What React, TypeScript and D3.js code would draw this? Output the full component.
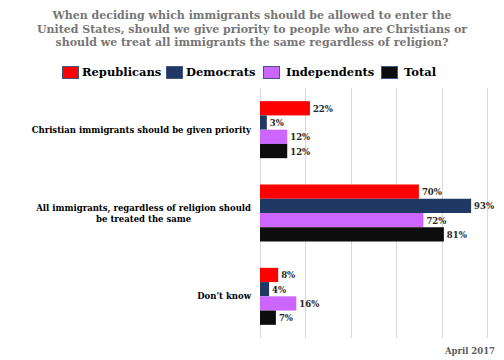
import React, { useEffect, useRef } from "react";
import * as d3 from "d3";

const categories = [
  ["Christian immigrants should be given priority"],
  ["All immigrants, regardless of religion should", "be treated the same"],
  ["Don't know"],
];
const seriesNames = ["Republicans", "Democrats", "Independents", "Total"];
const seriesColors = ["#ff0000", "#203864", "#cc66ff", "#0d0d0d"];
const republicans = [22, 70, 8];
const democrats = [3, 93, 4];
const independents = [12, 72, 16];
const total = [12, 81, 7];
const xTicks = [0, 20, 40, 60, 80, 100];
const titleLines = [
  "When deciding which immigrants should be allowed to enter the",
  "United States, should we give priority to people who are Christians or",
  "should we treat all immigrants the same regardless of religion?",
];
const dateLabel = "April 2017";

const FONT = "DejaVu Serif";

export default function App() {
  const ref = useRef<SVGSVGElement | null>(null);
  useEffect(() => {
    const svg = d3.select(ref.current);
    svg.selectAll("*").remove();
    const W = 504, H = 360;
    svg.append("rect").attr("width", W).attr("height", H).attr("fill", "#fff");

    // title
    const tg = svg.append("g");
    titleLines.forEach((l, i) => {
      tg.append("text")
        .attr("x", 252)
        .attr("y", 19 + i * 13.5)
        .attr("text-anchor", "middle")
        .attr("font-family", FONT)
        .attr("font-weight", "bold")
        .attr("font-size", 11)
        .attr("fill", "#767676")
        .text(l);
    });

    // legend
    const legendX = [62, 166, 263, 381];
    const legendTextX = [82, 186, 286, 404];
    const lg = svg.append("g");
    seriesNames.forEach((n, i) => {
      lg.append("rect")
        .attr("x", legendX[i] + 0.5)
        .attr("y", 66.5)
        .attr("width", 16)
        .attr("height", 12)
        .attr("fill", seriesColors[i])
        .attr("stroke", "#41597c")
        .attr("stroke-width", 1);
      lg.append("text")
        .attr("x", legendTextX[i])
        .attr("y", 76)
        .attr("font-family", FONT)
        .attr("font-weight", "bold")
        .attr("font-size", 11.5)
        .attr("fill", "#000")
        .text(n);
    });

    const x = d3.scaleLinear().domain([0, 100]).range([260, 487]);
    const y = d3.scaleBand<number>().domain([0, 1, 2]).range([88, 338]);
    const inner = d3.scaleBand<number>().domain([0, 1, 2, 3]).range([0, 57]);
    const padTop = (y.bandwidth() - 57) / 2;

    svg
      .append("g")
      .selectAll("line")
      .data(xTicks)
      .join("line")
      .attr("x1", (d) => Math.round(x(d)) + 0.5)
      .attr("x2", (d) => Math.round(x(d)) + 0.5)
      .attr("y1", 88)
      .attr("y2", 338)
      .attr("stroke", "#d9d9d9")
      .attr("stroke-width", 1);

    const series = [republicans, democrats, independents, total];
    const bg = svg.append("g");
    series.forEach((vals, si) => {
      vals.forEach((v, ci) => {
        const by = (y(ci) as number) + padTop + (inner(si) as number);
        bg.append("rect")
          .attr("x", x(0))
          .attr("y", by)
          .attr("width", x(v) - x(0))
          .attr("height", inner.bandwidth())
          .attr("fill", seriesColors[si]);
        bg.append("text")
          .attr("x", x(v) + 3)
          .attr("y", by + inner.bandwidth() / 2 + 3.5)
          .attr("font-family", FONT)
          .attr("font-weight", "bold")
          .attr("font-size", 8.5)
          .attr("fill", "#262626")
          .text(v + "%");
      });
    });

    const cg = svg.append("g");
    categories.forEach((lines, ci) => {
      const cy = (y(ci) as number) + y.bandwidth() / 2;
      if (lines.length === 1) {
        cg.append("text")
          .attr("x", 251)
          .attr("y", cy + 3)
          .attr("text-anchor", "end")
          .attr("font-family", FONT)
          .attr("font-weight", "bold")
          .attr("font-size", 8.5)
          .attr("fill", "#000")
          .text(lines[0]);
      } else {
        const t0 = cg
          .append("text")
          .attr("x", 251)
          .attr("y", cy - 2)
          .attr("text-anchor", "end")
          .attr("font-family", FONT)
          .attr("font-weight", "bold")
          .attr("font-size", 8.5)
          .attr("fill", "#000")
          .text(lines[0]);
        const w = (t0.node() as SVGTextElement).getComputedTextLength();
        cg.append("text")
          .attr("x", 251 - w / 2)
          .attr("y", cy + 9)
          .attr("text-anchor", "middle")
          .attr("font-family", FONT)
          .attr("font-weight", "bold")
          .attr("font-size", 8.5)
          .attr("fill", "#000")
          .text(lines[1]);
      }
    });

    svg
      .append("text")
      .attr("x", 495)
      .attr("y", 354)
      .attr("text-anchor", "end")
      .attr("font-family", FONT)
      .attr("font-weight", "bold")
      .attr("font-size", 8.5)
      .attr("fill", "#595959")
      .text(dateLabel);
  }, []);
  return (
    <svg
      ref={ref}
      width={504}
      height={360}
      style={{ position: "absolute", left: 0, top: 0 }}
    />
  );
}
